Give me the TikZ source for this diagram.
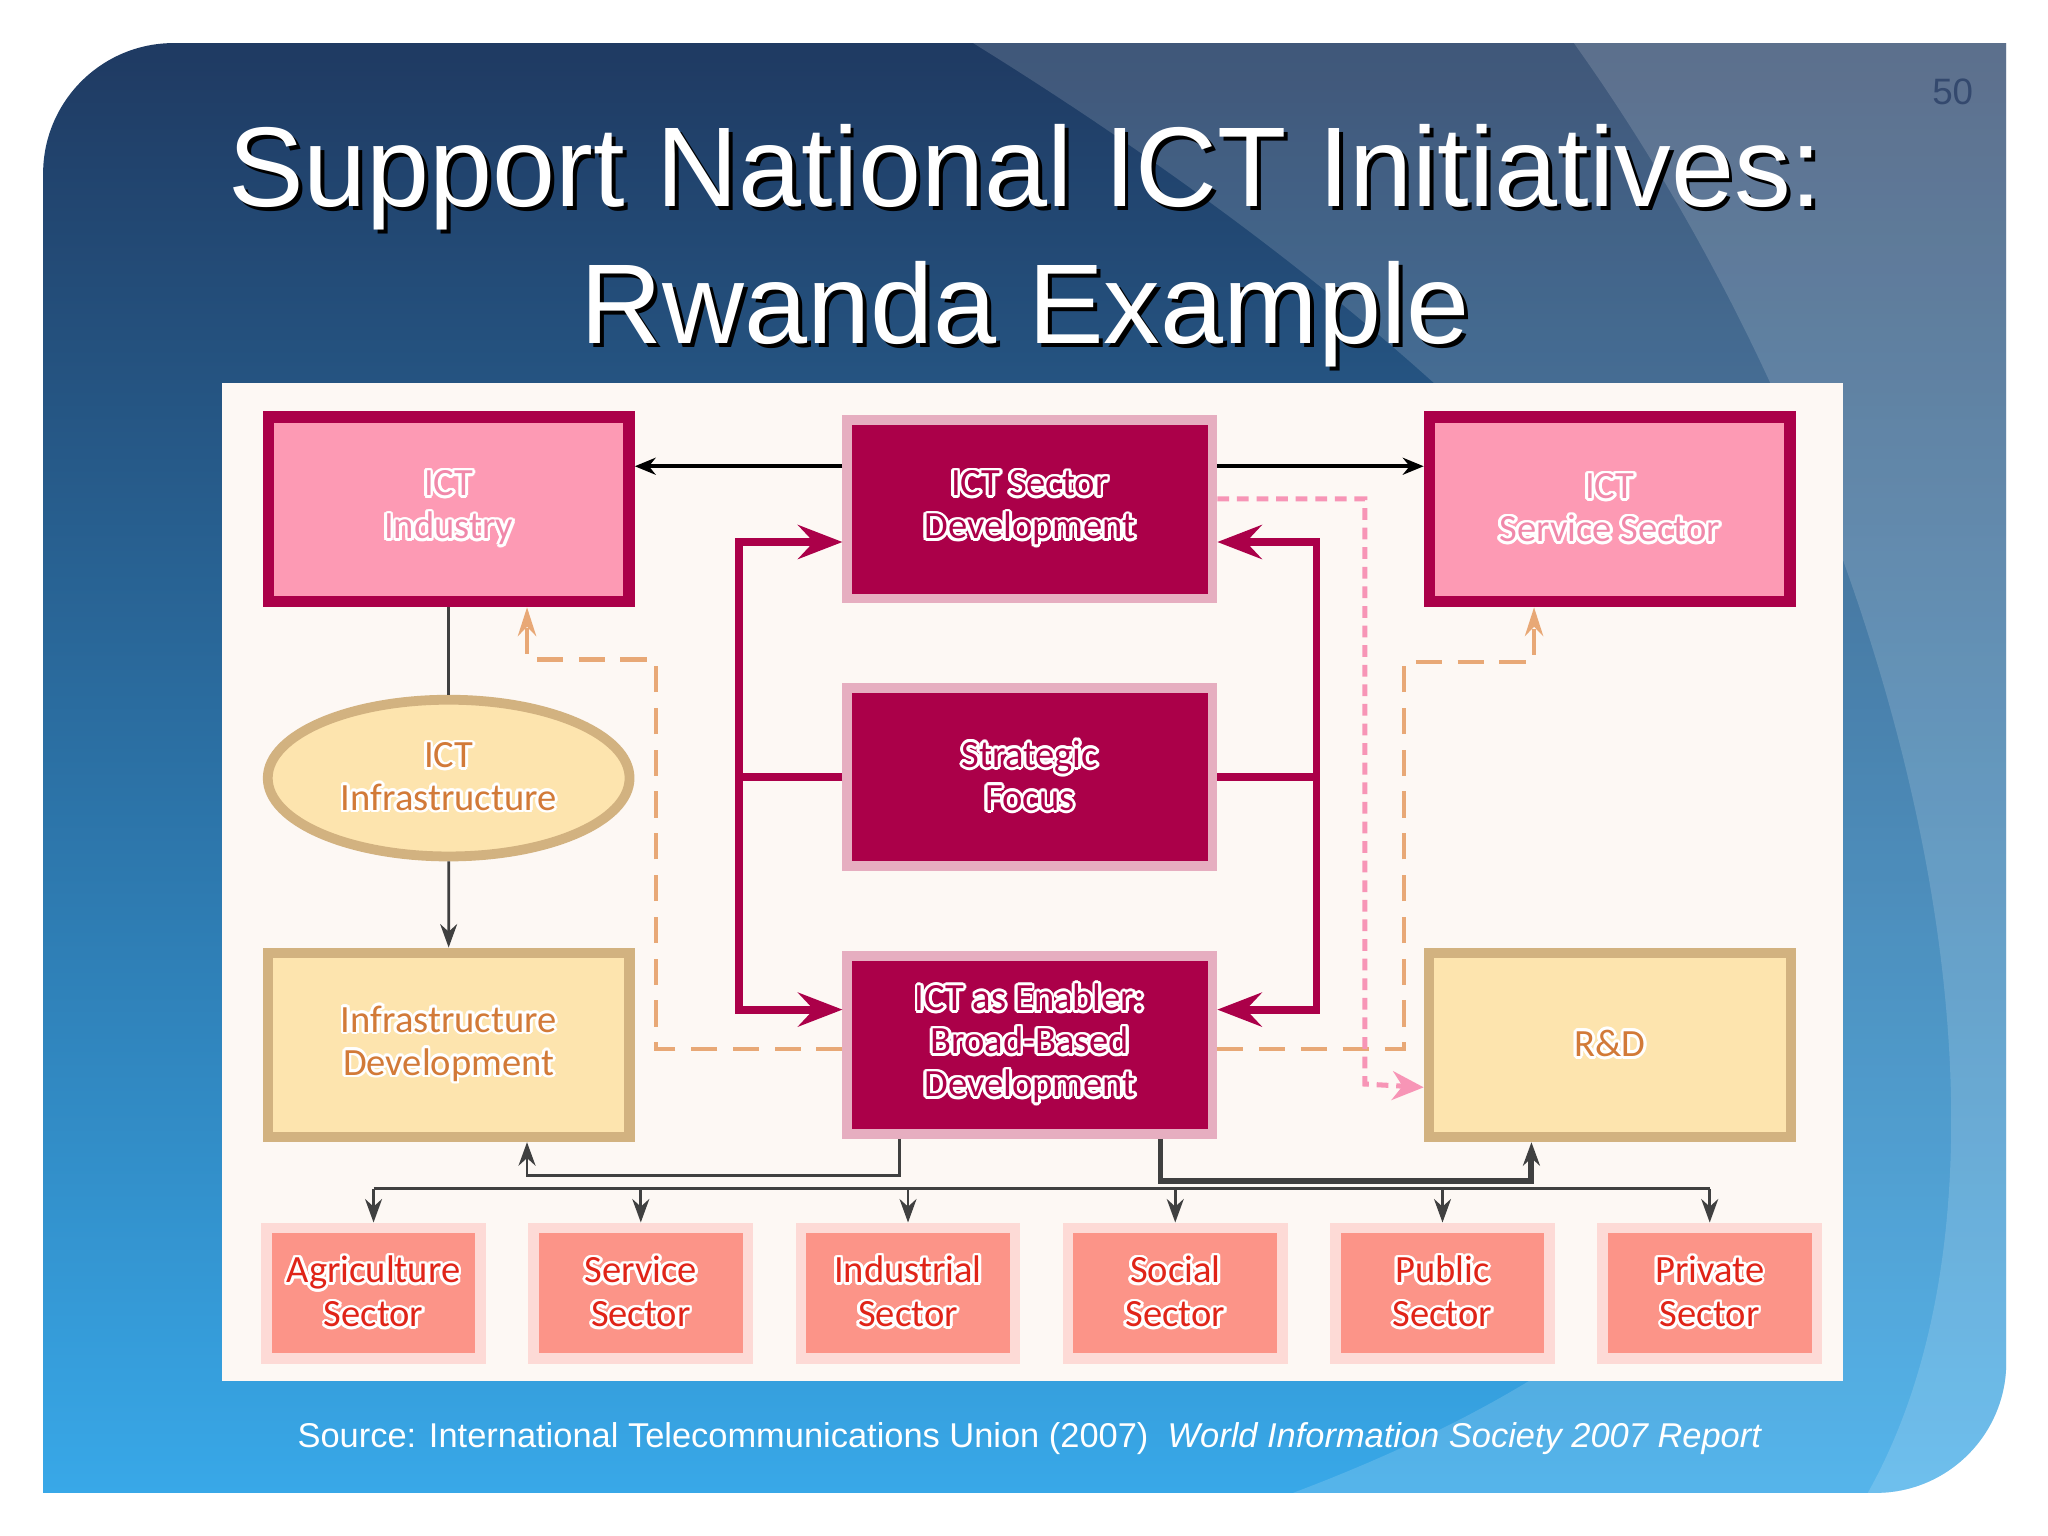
\documentclass[tikz,border=0pt]{standalone}
\usepackage{fontspec}
\setmainfont{Liberation Sans}
\newfontfamily\boxfont{Carlito}
\usepackage{contour}
\contourlength{0.6pt}
\usetikzlibrary{shapes.geometric, arrows.meta, positioning}

\definecolor{crim}{HTML}{AB0049}
\definecolor{crimedge}{HTML}{E6AEC0}
\definecolor{pinkfill}{HTML}{FD9AB4}
\definecolor{pinktext}{HTML}{F088AA}
\definecolor{tanedge}{HTML}{D2B280}
\definecolor{tanfill}{HTML}{FDE4AE}
\definecolor{tantext}{HTML}{D27A38}
\definecolor{secedge}{HTML}{FDDAD6}
\definecolor{secfill}{HTML}{FC9488}
\definecolor{sectext}{HTML}{E02418}
\definecolor{orangedash}{HTML}{E8A876}
\definecolor{pinkdash}{HTML}{F795B6}
\definecolor{linkgray}{HTML}{404040}
\definecolor{paper}{HTML}{FDF8F4}
\definecolor{navy}{HTML}{1F3A62}
\definecolor{midblue}{HTML}{2A6AA8}
\definecolor{sky}{HTML}{38A8E8}
\definecolor{pagenum}{HTML}{34496E}

\newcommand{\halo}[1]{\contour{white}{#1}}

\begin{document}
\begin{tikzpicture}[
    node distance=1.5cm,
    cell/.style={rectangle, font=\boxfont\fontsize{8.4}{9.4}\selectfont, align=center, inner sep=0pt},
    indbox/.style={cell, draw=crim, fill=pinkfill, line width=0.9mm, minimum width=2.76cm, minimum height=1.41cm, text=pinktext},
    corebox/.style={cell, draw=crimedge, fill=crim, line width=0.75mm, minimum width=2.795cm, minimum height=1.365cm, text=crim},
    basebox/.style={cell, draw=tanedge, fill=tanfill, line width=0.8mm, minimum width=2.77cm, minimum height=1.41cm, text=tantext},
    sectorbox/.style={cell, draw=secedge, fill=secfill, line width=0.8mm, minimum width=1.64cm, minimum height=1.0cm, text=sectext, font=\boxfont\fontsize{8.4}{9.6}\selectfont},
    link/.style={draw=linkgray, line width=0.6pt},
    arrow/.style={link, -{Stealth[length=1.8mm, width=1.3mm]}},
    toparrow/.style={draw=black, line width=0.8pt, -{Stealth[length=1.6mm, width=1.3mm]}},
    crimline/.style={draw=crim, line width=1.7pt},
    crimarrow/.style={crimline, -{Stealth[length=3.4mm, width=2.6mm, inset=1.2mm]}},
    feedback/.style={draw=orangedash, line width=0.9pt, dash pattern=on 2mm off 1.2mm, -{Stealth[length=2.2mm, width=1.4mm]}},
    research/.style={draw=pinkdash, line width=1.1pt, dash pattern=on 0.9mm off 0.6mm, -{Stealth[length=2.4mm, width=2.2mm]}},
    headline/.style={font=\fontsize{24.7}{30}\selectfont, anchor=base, inner sep=0pt}
]
    \useasboundingbox (0,0) rectangle (15.68,11.76);
    \fill[white] (0,0) rectangle (15.68,11.76);
    \shade[top color=navy, middle color=midblue, bottom color=sky]
        (0.33,0.33) -- (14.36,0.33) arc (-90:0:1.0) -- (15.36,11.43) -- (1.33,11.43) arc (90:180:1.0) -- cycle;
    \fill[white, opacity=0.15]
        (7.45,11.43) .. controls (12.5,8.3) and (17.5,3.2) .. (9.9,0.33) -- (14.36,0.33) arc (-90:0:1.0) -- (15.36,11.43) -- cycle;
    \fill[white, opacity=0.15]
        (12.05,11.43) .. controls (14.5,8.0) and (15.8,3.0) .. (14.3,0.33) -- (14.36,0.33) arc (-90:0:1.0) -- (15.36,11.43) -- cycle;

    \node[headline, black] at (7.88,10.15) {Support National ICT Initiatives:};
    \node[headline, white] (ttla) at (7.85,10.18) {Support National ICT Initiatives:};
    \node[headline, black] at (7.88,9.10) {Rwanda Example};
    \node[headline, white] (ttlb) at (7.85,9.13) {Rwanda Example};
    \node[anchor=base, text=pagenum, font=\fontsize{8}{9}\selectfont] (pg) at (14.95,10.96) {50};

    \fill[paper] (1.70,8.83) rectangle (14.11,1.19);

    \node[corebox] (sdev) at (7.885,7.86) {\halo{ICT Sector}\\\halo{Development}};
    \node[indbox, left=1.59cm of sdev] (ind) {\halo{ICT}\\\halo{Industry}};
    \node[indbox, right=1.58cm of sdev] (svc) {\halo{ICT}\\\halo{Service Sector}};
    \node[corebox, below=0.61cm of sdev] (focus) {\halo{Strategic}\\\halo{Focus}};
    \node[corebox, below=0.61cm of focus] (enab) {\halo{ICT as Enabler:}\\\halo{Broad-Based}\\\halo{Development}};
    \node[ellipse, draw=tanedge, fill=tanfill, line width=0.75mm, minimum width=2.77cm, minimum height=1.2cm, inner sep=0pt, align=center, text=tantext, font=\boxfont\fontsize{8.4}{9.2}\selectfont, below=0.67cm of ind] (infra) {\halo{ICT}\\\halo{Infrastructure}};
    \node[basebox, left=1.59cm of enab] (idev) {\halo{Infrastructure}\\\halo{Development}};
    \node[basebox, right=1.58cm of enab] (rnd) {\halo{R\&D}};

    \node[sectorbox] (agr) at (2.86,1.86) {\halo{Agriculture}\\\halo{Sector}};
    \node[sectorbox, right=3.26mm of agr] (srv) {\halo{Service}\\\halo{Sector}};
    \node[sectorbox, right=3.26mm of srv] (inds) {\halo{Industrial}\\\halo{Sector}};
    \node[sectorbox, right=3.26mm of inds] (soc) {\halo{Social}\\\halo{Sector}};
    \node[sectorbox, right=3.26mm of soc] (pub) {\halo{Public}\\\halo{Sector}};
    \node[sectorbox, right=3.26mm of pub] (prv) {\halo{Private}\\\halo{Sector}};

    \draw[toparrow] ([yshift=3.3mm]sdev.west) -- ([yshift=3.3mm]sdev.west -| ind.east);
    \draw[toparrow] ([yshift=3.3mm]sdev.east) -- ([yshift=3.3mm]sdev.east -| svc.west);
    \draw[link] (ind) -- (infra);
    \draw[arrow] (infra) -- (idev);

    \draw[crimline] (focus.west) -- ++(-0.79,0) coordinate (lft);
    \draw[crimarrow] (lft) |- ([yshift=-2.5mm]sdev.west);
    \draw[crimarrow] (lft) |- ([yshift=2.7mm]enab.west);
    \draw[crimline] (focus.east) -- ++(0.76,0) coordinate (rgt);
    \draw[crimarrow] (rgt) |- ([yshift=-2.5mm]sdev.east);
    \draw[crimarrow] (rgt) |- ([yshift=2.7mm]enab.east);

    \draw[feedback] ([yshift=-0.3mm]enab.west) -| (5.02,6.71) -| ([xshift=6mm]ind.south);
    \draw[feedback] ([yshift=-0.3mm]enab.east) -| (10.75,6.69) -| ([xshift=-5.8mm]svc.south);
    \draw[research] ([yshift=0.8mm]sdev.east) -| (10.45,3.46) -- ([yshift=-3.25mm]rnd.west);

    \draw[arrow] ([xshift=-1cm]enab.south) -- ++(0,-0.28) -| ([xshift=6mm]idev.south);
    \draw[arrow, line width=1.3pt] ([xshift=1cm]enab.south) -- ++(0,-0.32) -| ([xshift=-6mm]rnd.south);

    \draw[link] ([yshift=2.6mm]agr.north) -- ([yshift=2.6mm]prv.north);
    \draw[arrow] ([yshift=2.6mm]agr.north) -- (agr.north);
    \draw[arrow] ([yshift=2.6mm]srv.north) -- (srv.north);
    \draw[arrow] ([yshift=2.6mm]inds.north) -- (inds.north);
    \draw[arrow] ([yshift=2.6mm]soc.north) -- (soc.north);
    \draw[arrow] ([yshift=2.6mm]pub.north) -- (pub.north);
    \draw[arrow] ([yshift=2.6mm]prv.north) -- (prv.north);

    \node[anchor=base, white, font=\fontsize{7.5}{9}\selectfont] (src) at (7.885,0.68) {Source: International Telecommunications Union (2007)\ \ \textit{World Information Society 2007 Report}};
\end{tikzpicture}
\end{document}
